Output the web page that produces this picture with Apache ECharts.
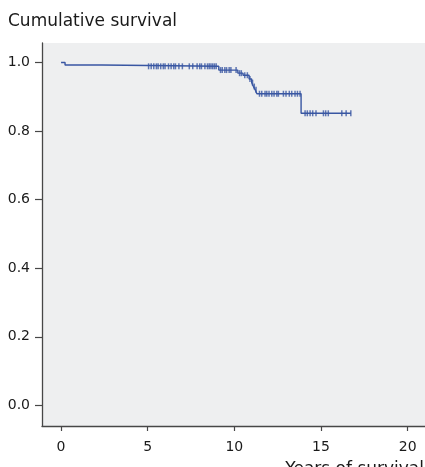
<!DOCTYPE html>
<html><head><meta charset="utf-8">
<script src="https://cdn.jsdelivr.net/npm/echarts@6/dist/echarts.min.js"></script>
<style>html,body{margin:0;padding:0;background:#fff}#c{width:425px;height:467px}</style>
</head><body><div id="c"></div>
<script>
// Kaplan-Meier step points (time in years, cumulative survival)
const stepTimes    = [0, 0.23, 2.35, 9.1, 10.2, 10.5, 10.85, 11.0, 11.1, 11.2, 11.3, 13.85, 16.72];
const stepSurvival = [1.0, 0.993, 0.989, 0.978, 0.969, 0.963, 0.952, 0.941, 0.930, 0.921, 0.909, 0.852, 0.852];
// censored observations (years)
const censorTimes = [5.05, 5.2, 5.35, 5.5, 5.6, 5.75, 5.9, 6.0, 6.2, 6.35, 6.5, 6.6, 6.8, 7.0, 7.4, 7.6, 7.85, 8.0, 8.1, 8.3, 8.45, 8.55, 8.65, 8.75, 8.85, 8.95,
  9.2, 9.3, 9.45, 9.55, 9.7, 9.8, 10.1, 10.3, 10.4, 10.6, 10.75, 10.9, 11.05, 11.15, 11.25,
  11.45, 11.58, 11.77, 11.87, 12.0, 12.16, 12.29, 12.45, 12.54, 12.83, 12.98, 13.17, 13.31, 13.5, 13.64, 13.79,
  14.08, 14.21, 14.37, 14.52, 14.71, 15.14, 15.27, 15.42, 16.2, 16.45, 16.72];
const xTicks = [0, 5, 10, 15, 20];
const yTicks = [0, 0.2, 0.4, 0.6, 0.8, 1.0];
const titleText = 'Cumulative survival';
const xName = 'Years of survival';

function survivalAt(t) {
  let s = stepSurvival[0];
  for (let i = 0; i < stepTimes.length; i++) { if (stepTimes[i] <= t) s = stepSurvival[i]; }
  return s;
}

const fontFam = '"DejaVu Sans", Verdana, sans-serif';
const curveColor = '#3856a2';
const axisColor = '#474747';
const textColor = '#1a1a1a';
const chart = echarts.init(document.getElementById('c'), null, {renderer: 'canvas'});
chart.setOption({
  animation: false,
  backgroundColor: '#ffffff',
  grid: {left: 42, right: 0, top: 43, bottom: 41, show: true, backgroundColor: '#eeeff0', borderWidth: 0},
  graphic: [
    {type: 'text', left: 8, top: 13, style: {text: titleText, fontSize: 17, fontFamily: fontFam, fill: textColor}},
    {type: 'text', right: 1, top: 461, style: {text: xName, fontSize: 17, fontFamily: fontFam, fill: textColor}}
  ],
  xAxis: {
    type: 'value', min: -1.1, max: 21.0,
    splitLine: {show: false},
    axisLine: {show: true, onZero: false, lineStyle: {color: axisColor, width: 1.3}},
    axisTick: {show: true, customValues: xTicks, length: 5, lineStyle: {color: axisColor, width: 1.2}},
    axisLabel: {customValues: xTicks, margin: 14, fontSize: 14, color: textColor, fontFamily: fontFam}
  },
  yAxis: {
    type: 'value', min: -0.06, max: 1.057,
    splitLine: {show: false},
    axisLine: {show: true, onZero: false, lineStyle: {color: axisColor, width: 1.3}},
    axisTick: {show: true, customValues: yTicks, length: 7, lineStyle: {color: axisColor, width: 1.2}},
    axisLabel: {customValues: yTicks, margin: 12, fontSize: 14, color: textColor, fontFamily: fontFam,
      formatter: v => v.toFixed(1)}
  },
  series: [
    {type: 'line', step: 'end', showSymbol: false, silent: true,
     data: stepTimes.map((t, i) => [t, stepSurvival[i]]),
     lineStyle: {color: curveColor, width: 1.4}},
    {type: 'scatter', silent: true, symbol: 'rect', symbolSize: [1.5, 6],
     itemStyle: {color: curveColor},
     data: censorTimes.map(t => [t, survivalAt(t)])}
  ]
});
</script></body></html>
